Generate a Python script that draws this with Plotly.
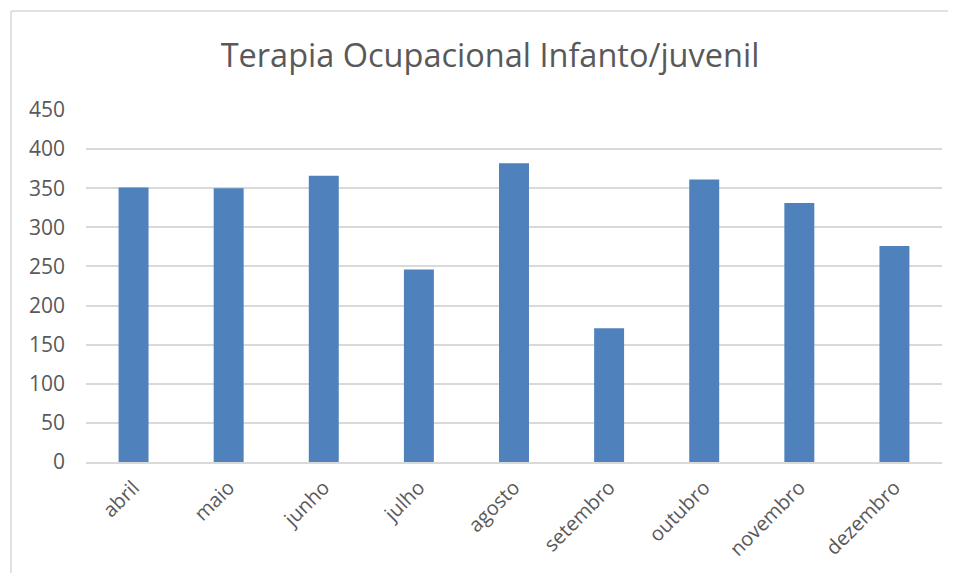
import plotly.graph_objects as go

months = ["abril", "maio", "junho", "julho", "agosto", "setembro", "outubro", "novembro", "dezembro"]
values = [351, 350, 366, 246, 382, 171, 361, 331, 276]
y_ticks = [0, 50, 100, 150, 200, 250, 300, 350, 400, 450]

fig = go.Figure()
fig.add_trace(go.Bar(x=months, y=values, marker=dict(color="#4f81bd", line=dict(width=0))))

# page is offset by the body's 8px margin; keep the figure inside the viewport
OFF = 8
W, H = 956 - 2 * OFF, 581 - 2 * OFF
L, T = 86 - OFF, 110 - OFF
R = W - (942 - OFF)
B = H - (462 - OFF)
pw, ph = W - L - R, H - T - B

bx0 = (11 - 86) / pw
bx1 = (990 - 86) / pw
by_top = (462 - 11) / ph
by_bot = (462 - 620) / ph
border = dict(color="#d9d9d9", width=1.5)

fig.update_layout(
    width=W, height=H,
    margin=dict(l=L, r=R, t=T, b=B, pad=0),
    paper_bgcolor="white", plot_bgcolor="white",
    bargap=0.685,
    showlegend=False,
    font=dict(family="Open Sans", color="#595959"),
    title=dict(text="Terapia Ocupacional Infanto/juvenil", x=(490 - OFF) / W, xanchor="center",
               y=1 - (56 - OFF) / H, yanchor="middle",
               font=dict(size=32.5, color="#595959", family="Open Sans")),
    xaxis=dict(tickangle=-45, tickfont=dict(size=20, color="#595959"), showgrid=False,
               showline=True, linecolor="#d9d9d9", linewidth=2, ticks="", ticklabelstandoff=4),
    yaxis=dict(range=[0, 450], tickvals=y_ticks, tickfont=dict(size=21, color="#595959"),
               showgrid=True, gridcolor="#d9d9d9", gridwidth=2, zeroline=False,
               showline=False, ticks="", ticklabelstandoff=20),
    shapes=[
        dict(type="line", xref="paper", yref="paper", x0=bx0, x1=bx0, y0=by_bot, y1=by_top,
             line=border, layer="below"),
        dict(type="line", xref="paper", yref="paper", x0=bx0, x1=bx1, y0=by_top, y1=by_top,
             line=border, layer="below"),
    ],
)

fig.write_html("out.html")
